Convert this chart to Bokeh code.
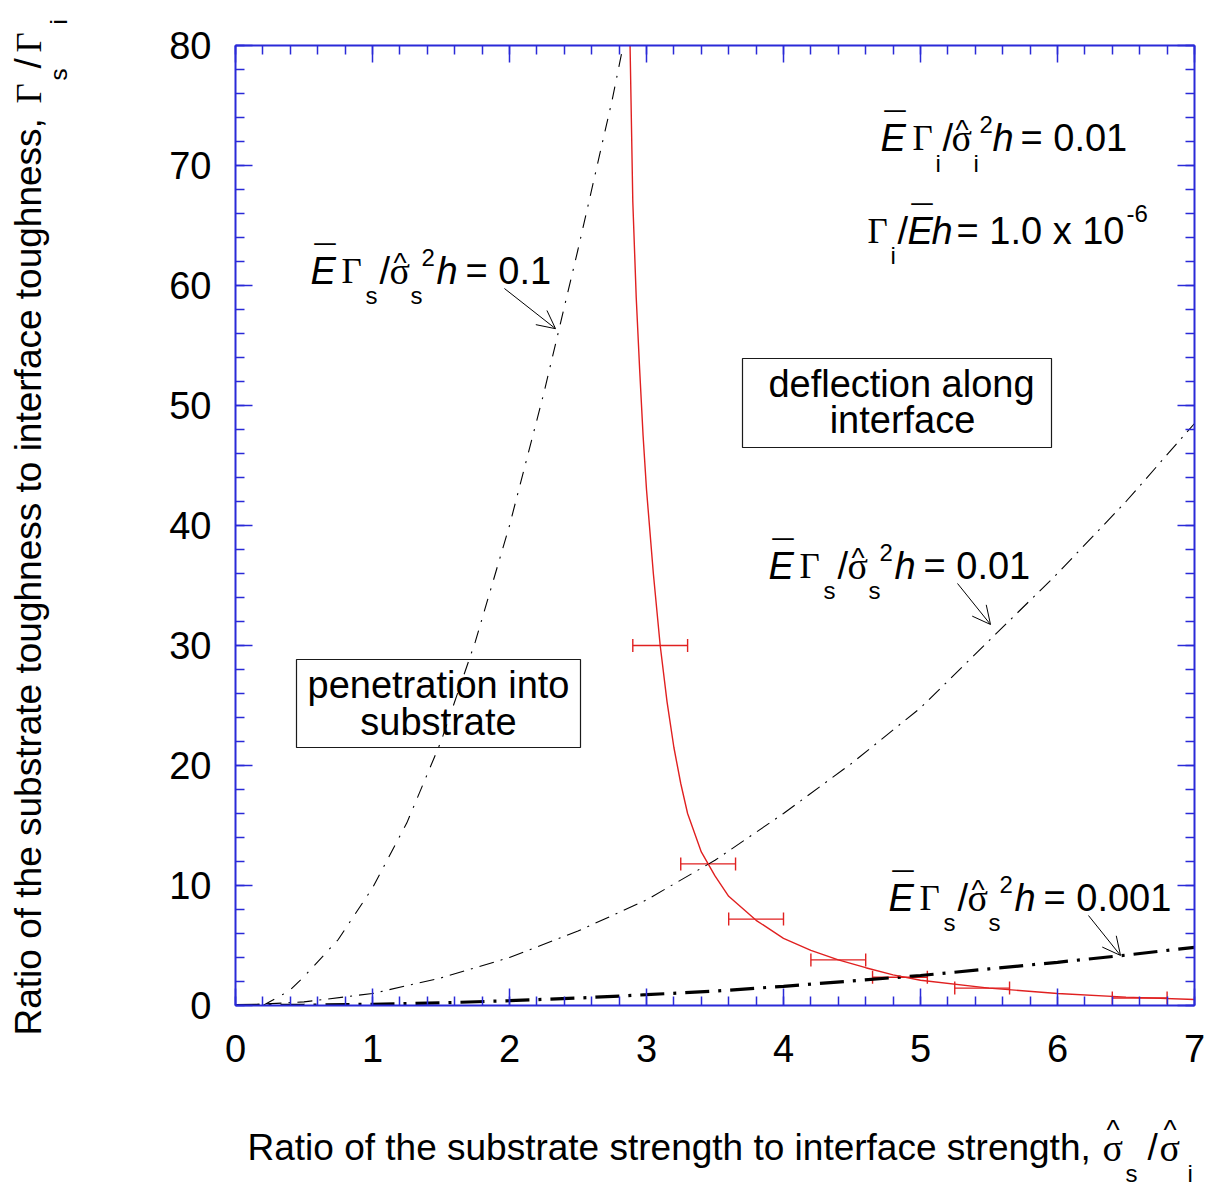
import math
from bokeh.plotting import figure
from bokeh.layouts import row, column
from bokeh.models import (Label, Arrow, OpenHead, Whisker, TeeHead, ColumnDataSource,
                          LinearAxis, SingleIntervalTicker, Range1d, BoxAnnotation,
                          CustomJSTickFormatter)
from bokeh.embed import file_html
from bokeh.resources import INLINE

# ---------------- data ----------------
x_c01 = [0.20, 0.39, 0.50, 0.75, 1.00, 1.25, 1.50, 1.75, 2.00, 2.25, 2.50, 2.75, 2.83]
y_c01 = [0.0, 1.2, 2.4, 5.5, 9.8, 15.2, 22.0, 30.3, 40.0, 51.0, 63.0, 75.5, 80.0]

x_c001 = [0.0, 0.5, 1.0, 1.5, 2.0, 2.5, 3.0, 3.5, 4.0, 4.5, 5.0, 5.5, 6.0, 6.5, 7.0]
y_c001 = [0.0, 0.3, 1.0, 2.3, 4.0, 6.2, 8.8, 12.1, 16.0, 20.2, 24.8, 30.4, 36.0, 42.0, 48.5]

x_c0001 = [0.0, 0.5, 1.0, 1.5, 2.0, 2.5, 3.0, 3.5, 4.0, 4.5, 5.0, 5.5, 6.0, 6.5, 7.0]
y_c0001 = [0.0, 0.03, 0.10, 0.22, 0.40, 0.62, 0.90, 1.20, 1.60, 2.05, 2.50, 3.05, 3.60, 4.20, 4.85]

x_red = [2.88, 2.90, 2.925, 2.95, 2.975, 3.00, 3.05, 3.10, 3.15, 3.20, 3.25, 3.30, 3.40,
         3.50, 3.60, 3.80, 4.00, 4.20, 4.40, 4.60, 4.80, 5.00, 5.50, 6.00, 6.50, 7.00]
y_red = [80.0, 67.0, 59.0, 53.0, 47.5, 43.0, 36.0, 30.0, 25.3, 21.5, 18.5, 16.0, 12.8,
         10.8, 9.1, 7.1, 5.6, 4.6, 3.8, 3.15, 2.55, 2.1, 1.45, 1.0, 0.7, 0.5]

err_x = [3.10, 3.45, 3.80, 4.40, 4.85, 5.45, 6.60]
err_y = [30.0, 11.8, 7.2, 3.8, 2.35, 1.45, 0.62]
err_half = [0.2, 0.2, 0.2, 0.2, 0.2, 0.2, 0.2]

# arrows (data coords): start x, start y, end x, end y
arrow_xs = [1.963, 5.270, 6.226]
arrow_ys = [59.75, 35.17, 7.50]
arrow_xe = [2.336, 5.511, 6.460]
arrow_ye = [56.40, 31.75, 4.17]

# ---------------- layout constants ----------------
BLUE = "#2a2ad8"
RED = "#e02020"
SANS = "Liberation Sans"
SERIF = "Liberation Serif"

W, H = 1210, 1186
LW = 80          # width of left title strip
BH = 96          # height of bottom title strip
FX0, FX1, FY0, FY1 = 235, 1194, 1005, 45   # frame in page pixels
K = 0.34         # baseline correction (fraction of font size)

MW, MH = W - LW, H - BH

p = figure(width=MW, height=MH, x_range=Range1d(0, 7), y_range=Range1d(0, 80),
           output_backend="svg", toolbar_location=None,
           min_border_left=FX0 - LW, min_border_right=W - FX1,
           min_border_top=FY1, min_border_bottom=MH - FY0)
p.grid.visible = False
p.outline_line_color = None
p.background_fill_color = "white"
p.border_fill_color = "white"

xt = SingleIntervalTicker(interval=1, num_minor_ticks=5)
yt = SingleIntervalTicker(interval=10, num_minor_ticks=5)


def style_axis(ax, labels=True):
    ax.axis_line_color = BLUE
    ax.axis_line_width = 2
    ax.major_tick_line_color = BLUE
    ax.minor_tick_line_color = BLUE
    ax.major_tick_line_width = 1.5
    ax.minor_tick_line_width = 1.5
    ax.major_tick_in = 17
    ax.major_tick_out = 0
    ax.minor_tick_in = 9
    ax.minor_tick_out = 0
    ax.major_label_text_font = SANS
    ax.major_label_text_font_size = "38px"
    ax.major_label_text_color = "black"
    if not labels:
        ax.formatter = CustomJSTickFormatter(code="return ''")
        ax.major_label_standoff = 0


p.xaxis[0].ticker = xt
p.yaxis[0].ticker = yt
style_axis(p.xaxis[0])
style_axis(p.yaxis[0])
p.xaxis[0].major_label_standoff = 29
p.yaxis[0].major_label_standoff = 24

top = LinearAxis(ticker=xt)
right = LinearAxis(ticker=yt)
style_axis(top, labels=False)
style_axis(right, labels=False)
p.add_layout(top, "above")
p.add_layout(right, "right")

# ---------------- curves ----------------
p.line(x_c01, y_c01, line_color="black", line_width=1.1, line_dash="13 9 2 9")
p.line(x_c001, y_c001, line_color="black", line_width=1.1, line_dash="15 7 2 7")
p.line(x_c0001, y_c0001, line_color="black", line_width=3.2, line_dash="24 9 3 9")
p.line(x_red, y_red, line_color=RED, line_width=1.4)

err_src = ColumnDataSource(dict(
    y=err_y,
    lo=[a - b for a, b in zip(err_x, err_half)],
    hi=[a + b for a, b in zip(err_x, err_half)],
))
p.add_layout(Whisker(source=err_src, base="y", lower="lo", upper="hi", dimension="width",
                     line_color=RED, line_width=1.4,
                     lower_head=TeeHead(size=13, line_color=RED, line_width=1.4),
                     upper_head=TeeHead(size=13, line_color=RED, line_width=1.4)))

for xs, ys, xe, ye in zip(arrow_xs, arrow_ys, arrow_xe, arrow_ye):
    p.add_layout(Arrow(x_start=xs, y_start=ys, x_end=xe, y_end=ye, line_width=1,
                       end=OpenHead(size=18, line_width=1)))


# ---------------- texts inside the frame ----------------
def dxp(X):
    return (X - FX0) * 7 / (FX1 - FX0)


def dyp(Y):
    return (FY0 - Y) * 80 / (FY0 - FY1)


def put(X, Y, text, size=38, font=SANS, style="normal", align="left"):
    p.add_layout(Label(x=dxp(X), y=dyp(Y - K * size), text=text, text_font=font,
                       text_font_size=f"{size}px", text_font_style=style,
                       text_align=align, text_baseline="alphabetic",
                       text_color="black"))


def formula_s(X0, Y0, sub, rhs):
    put(X0, Y0, "E", style="italic")
    put(X0 + 4, Y0 - 11, "\u00af")
    put(X0 + 31, Y0, "\u0393", size=35, font=SERIF)
    put(X0 + 55, Y0 + 20, sub, size=24)
    put(X0 + 69, Y0, "/")
    put(X0 + 79, Y0, "\u03c3", font=SERIF)
    put(X0 + 83, Y0 - 11, "^", size=28)
    put(X0 + 100, Y0 + 20, sub, size=24)
    put(X0 + 111, Y0 - 18, "2", size=24)
    put(X0 + 126, Y0, "h", style="italic")
    put(X0 + 155, Y0, rhs)


# top-right conditions
X0, Y0 = 880, 150
put(X0, Y0, "E", style="italic")
put(X0 + 4, Y0 - 11, "\u00af")
put(X0 + 32, Y0, "\u0393", size=35, font=SERIF)
put(X0 + 55, Y0 + 21, "i", size=24)
put(X0 + 62, Y0, "/")
put(X0 + 71, Y0, "\u03c3", font=SERIF)
put(X0 + 75, Y0 - 11, "^", size=28)
put(X0 + 93, Y0 + 21, "i", size=24)
put(X0 + 99, Y0 - 18, "2", size=24)
put(X0 + 112, Y0, "h", style="italic")
put(X0 + 140, Y0, "= 0.01")

X0, Y0 = 867, 243
put(X0, Y0, "\u0393", size=35, font=SERIF)
put(X0 + 23, Y0 + 20, "i", size=24)
put(X0 + 30, Y0, "/")
put(X0 + 40, Y0, "E", style="italic")
put(X0 + 44, Y0 - 11, "\u00af")
put(X0 + 64, Y0, "h", style="italic")
put(X0 + 89, Y0, "= 1.0 x 10")
put(X0 + 259, Y0 - 22, "-6", size=24)

formula_s(310, 283, "s", "= 0.1")
formula_s(768, 578, "s", "= 0.01")
formula_s(888, 910, "s", "= 0.001")

# region boxes
for l, r, t, b in [(296, 580, 659, 747), (742, 1051, 358, 447)]:
    p.add_layout(BoxAnnotation(left=dxp(l), right=dxp(r), top=dyp(t), bottom=dyp(b),
                               fill_color=None, fill_alpha=0, line_color="#1a1a1a",
                               line_alpha=1.0, line_width=1.2))
put(438, 697, "penetration into", align="center")
put(438, 734, "substrate", align="center")
put(901, 396, "deflection along", align="center")
put(902, 432, "interface", align="center")

# ---------------- axis titles (side strips, page-pixel coordinates) ----------------
left = figure(width=LW, height=H, x_range=Range1d(0, LW), y_range=Range1d(H, 0),
              output_backend="svg", toolbar_location=None, x_axis_type=None,
              y_axis_type=None, min_border=0)
left.grid.visible = False
left.outline_line_color = None

# the column aligns this strip's frame with the main frame (page x 235..1194)
bottom = figure(width=MW, height=BH, x_range=Range1d(FX0, FX1), y_range=Range1d(H, MH),
                output_backend="svg", toolbar_location=None, x_axis_type=None,
                y_axis_type=None, min_border=0)
bottom.grid.visible = False
bottom.outline_line_color = None

A = math.pi / 2


def put_b(X, Y, text, size=37, font=SANS):
    bottom.add_layout(Label(x=X, y=Y - K * size, text=text, text_font=font,
                            text_font_size=f"{size}px", text_baseline="alphabetic",
                            text_align="left", text_color="black"))


def put_l(X, Y, text, size=37, font=SANS):
    left.add_layout(Label(x=X - K * size, y=Y, text=text, text_font=font,
                          text_font_size=f"{size}px", text_baseline="alphabetic",
                          text_align="left", angle=A, text_color="black"))


put_b(247, 1160, "Ratio of the substrate strength to interface strength,")
put_b(1102, 1160, "\u03c3", size=38, font=SERIF)
put_b(1106, 1139, "^", size=28)
put_b(1125, 1181, "s", size=24)
put_b(1147, 1160, "/")
put_b(1159, 1160, "\u03c3", size=38, font=SERIF)
put_b(1163, 1139, "^", size=28)
put_b(1187, 1181, "i", size=24)

put_l(41, 1035, "Ratio of the substrate toughness to interface toughness,")
put_l(41, 103, "\u0393", size=35, font=SERIF)
put_l(66, 80, "s", size=24)
put_l(41, 68, "/")
put_l(41, 52, "\u0393", size=35, font=SERIF)
put_l(66, 24, "i", size=24)

layout = row(left, column(p, bottom, spacing=0), spacing=0)
open("out.html", "w").write(file_html(layout, INLINE))
